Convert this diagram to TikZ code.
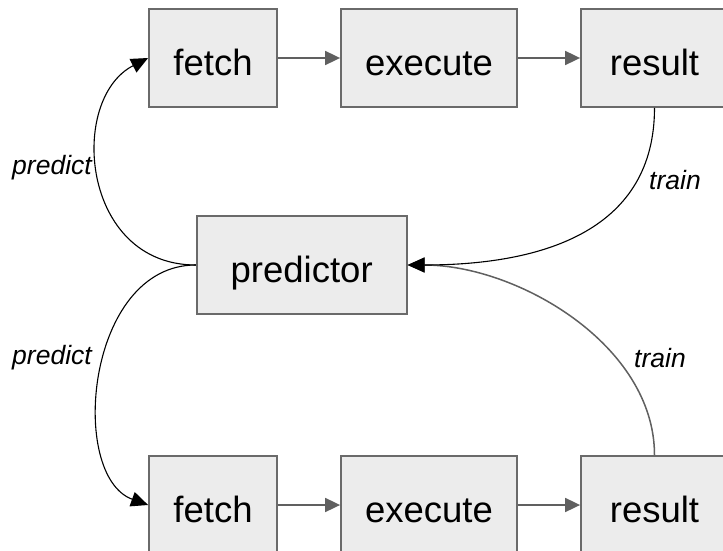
\documentclass[tikz,border=0pt]{standalone}
\usepackage{fontspec}
\setmainfont{Liberation Sans}
\usetikzlibrary{arrows.meta}
\definecolor{boxfill}{HTML}{ECECEC}
\definecolor{boxline}{HTML}{6A6A6A}
\definecolor{flowline}{HTML}{606060}
\begin{document}
\begin{tikzpicture}[x=1pt,y=-1pt,
  stage/.style={draw=boxline, fill=boxfill, line width=1.8pt, minimum height=98pt,
    inner sep=0pt, font=\fontsize{36.5}{40}\selectfont, text height=34pt, text depth=0pt},
  flow/.style={draw=flowline, line width=1.8pt, -{Triangle[length=15pt,width=14pt]}},
  link/.style={draw=black, line width=1.1pt, -{Triangle[length=17pt,width=15pt]}},
  feedback/.style={draw=flowline, line width=1.5pt, -{Triangle[length=17pt,width=15pt]}},
  tag/.style={font=\fontsize{26.5}{30}\selectfont\itshape, inner sep=0pt}]
\useasboundingbox (0,0) rectangle (723,551);
\clip (0,0) rectangle (723,551);

% upper pipeline
\node[stage, minimum width=128pt] (f1) at (213,58) {fetch};
\node[stage, minimum width=176pt] (e1) at (429,58) {execute};
\node[stage, minimum width=147pt] (r1) at (654.5,58) {result};

% predictor
\node[stage, minimum width=210pt] (pred) at (301.7,265) {predictor};

% lower pipeline
\node[stage, minimum width=128pt] (f2) at (213,505) {fetch};
\node[stage, minimum width=176pt] (e2) at (429,505) {execute};
\node[stage, minimum width=147pt] (r2) at (654.5,505) {result};

% pipeline flow
\draw[flow] (f1) -- (e1);
\draw[flow] (e1) -- (r1);
\draw[flow] (f2) -- (e2);
\draw[flow] (e2) -- (r2);

% prediction links
\draw[link] (pred.west) .. controls +(-115,0) and +(-80,41) .. (f1.west);
\draw[link] (pred.west) .. controls +(-110,0) and +(-80,-29) .. (f2.west);

% training feedback
\draw[feedback] (r2.north) .. controls +(0,-110) and +(110,0) .. (pred.east);
\draw[link] (r1.south) .. controls +(0,120) and +(140,0) .. (pred.east);

% labels
\node[tag] (p1) at (52,168) {predict};
\node[tag] (p2) at (52,358) {predict};
\node[tag] (t1) at (675,180) {train};
\node[tag] (t2) at (660,358) {train};
\end{tikzpicture}
\end{document}
